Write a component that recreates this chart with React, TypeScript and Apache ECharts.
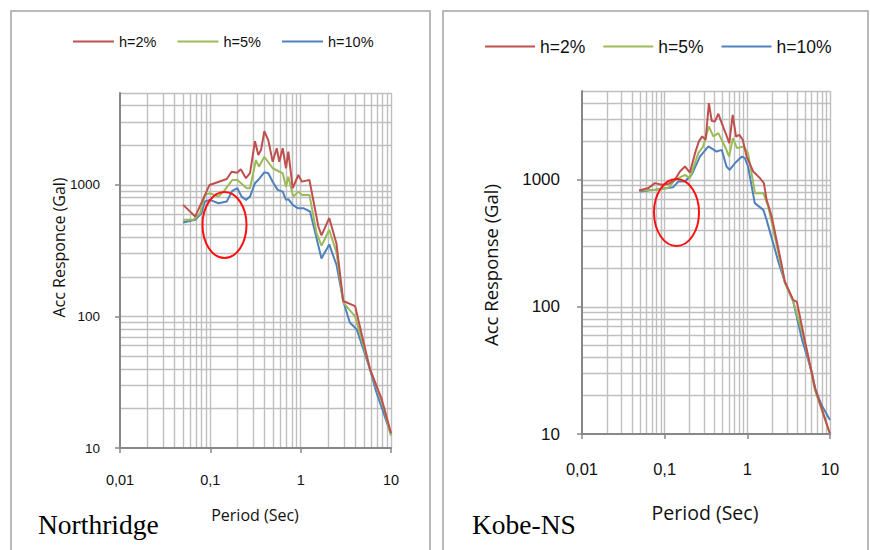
import React, { useEffect, useRef } from 'react';
import * as echarts from 'echarts';

const seriesNames = ['h=2%', 'h=5%', 'h=10%'];
const seriesColors = ['#C0504D', '#9BBB59', '#4F81BD'];
const xMin = 0.01;
const xMax = 10;
const yMin = 10;
const yMax = 5000;
const xTickValues = [0.01, 0.1, 1, 10];
const yTickValues = [10, 100, 1000];
const panelTitles = ['Northridge', 'Kobe-NS'];
const yAxisTitles = ['Acc Responce (Gal)', 'Acc Response (Gal)'];
const xAxisTitle = 'Period (Sec)';

// Northridge [period (s), acceleration (Gal)]
const northridgeH2 = [
  [0.05, 705], [0.068, 575], [0.098, 1000], [0.152, 1110], [0.172, 1260], [0.199, 1240],
  [0.217, 1315], [0.248, 1125], [0.275, 1230], [0.312, 2150], [0.34, 1690], [0.364, 1840],
  [0.396, 2560], [0.438, 2190], [0.49, 1500], [0.543, 1900], [0.58, 1500], [0.633, 1900],
  [0.688, 1340], [0.73, 1790], [0.817, 945], [0.942, 1190], [1.03, 1060], [1.25, 1090],
  [1.57, 483], [1.7, 414], [2.07, 560], [2.49, 359], [2.96, 131], [4.0, 120], [5.86, 39.6],
  [7.0, 29], [7.89, 23.5], [10, 13],
];
const northridgeH5 = [
  [0.05, 543], [0.065, 543], [0.077, 611], [0.087, 840], [0.099, 865], [0.123, 815],
  [0.145, 917], [0.175, 1090], [0.199, 1090], [0.253, 944], [0.275, 944], [0.32, 1546],
  [0.345, 1377], [0.396, 1638], [0.49, 1339], [0.633, 1227], [0.688, 970], [0.73, 1156],
  [0.828, 815], [0.942, 890], [1.03, 840], [1.25, 840], [1.5, 431], [1.7, 345], [2.07, 456],
  [2.5, 304], [2.96, 128], [4.0, 100], [5.86, 40], [8.2, 21], [10, 12.4],
];
const northridgeH10 = [
  [0.05, 519], [0.068, 543], [0.08, 611], [0.087, 748], [0.099, 770], [0.123, 726],
  [0.152, 748], [0.175, 901], [0.199, 944], [0.222, 815], [0.248, 770], [0.275, 815],
  [0.312, 1030], [0.345, 1105], [0.396, 1248], [0.438, 1227], [0.49, 1059], [0.556, 917],
  [0.633, 890], [0.688, 770], [0.73, 779], [0.817, 705], [0.928, 666], [1.07, 666],
  [1.27, 628], [1.7, 276], [2.07, 353], [2.5, 245], [2.96, 131], [3.5, 90], [4.17, 80],
  [5.86, 39.6], [6.9, 26.4], [10, 12.7],
];

// Kobe-NS [period (s), acceleration (Gal)]
const kobeH2 = [
  [0.049, 824], [0.0635, 861], [0.0763, 942], [0.0921, 914], [0.11, 926], [0.133, 1000],
  [0.153, 1162], [0.176, 1273], [0.202, 1141], [0.233, 1622], [0.259, 2005], [0.285, 2195],
  [0.313, 2066], [0.343, 4018], [0.371, 2900], [0.406, 2880], [0.446, 3311], [0.49, 2793],
  [0.537, 2400], [0.605, 1945], [0.665, 3250], [0.729, 2193], [0.8, 2260], [0.879, 2066],
  [0.982, 1525], [1.18, 1162], [1.42, 1031], [1.585, 942], [1.71, 696], [1.97, 514],
  [2.58, 221], [2.84, 158], [3.6, 113], [3.97, 110], [5.0, 53], [6.6, 22.9], [10, 10],
];
const kobeH5 = [
  [0.049, 824], [0.0763, 834], [0.11, 861], [0.133, 1000], [0.176, 1095], [0.202, 1031],
  [0.255, 1622], [0.292, 1830], [0.343, 2631], [0.387, 2195], [0.446, 2333], [0.536, 1830],
  [0.602, 1526], [0.668, 2129], [0.749, 1777], [0.899, 1830], [1.02, 1622], [1.24, 785],
  [1.56, 785], [1.79, 617], [2.58, 207], [2.84, 155], [3.6, 110], [5.0, 52], [6.6, 22],
  [10, 10],
];
const kobeH10 = [
  [0.05, 809], [0.076, 834], [0.127, 876], [0.146, 969], [0.176, 969], [0.212, 1095],
  [0.267, 1525], [0.338, 1830], [0.425, 1670], [0.49, 1722], [0.56, 1273], [0.61, 1199],
  [0.71, 1353], [0.78, 1437], [0.86, 1525], [0.935, 1482], [1.02, 1273], [1.23, 656],
  [1.56, 580], [1.71, 484], [2.4, 221], [2.84, 158], [3.6, 110], [4.6, 55], [6.0, 31],
  [6.6, 22.9], [7.9, 16.9], [10, 12.9],
];

const panelData = [
  [northridgeH2, northridgeH5, northridgeH10],
  [kobeH2, kobeH5, kobeH10],
];

function logGridValues(min: number, max: number): number[] {
  const out: number[] = [];
  for (let d = min; d < max * 0.999; d *= 10) {
    for (let m = 1; m < 10; m++) {
      const v = +(d * m).toPrecision(4);
      if (v <= max * 1.0001 && out.indexOf(v) < 0) out.push(v);
    }
  }
  if (out.indexOf(max) < 0) out.push(max);
  return out;
}

const FONT = '"Liberation Sans", Arial, sans-serif';
const TITLE_FONT = '"Open Sans", sans-serif';
const SERIF = '"Liberation Serif", "Times New Roman", serif';
const AXIS_COLOR = '#878787';
const GRID_COLOR = '#bfbfbf';

export default function App() {
  const ref = useRef<HTMLDivElement>(null);

  useEffect(() => {
    document.body.style.margin = '0';
    if (!ref.current) return;
    const chart = echarts.init(ref.current, undefined, { renderer: 'svg' });

    const xGrid = logGridValues(xMin, xMax).filter((v) => v > xMin);
    const yGrid = logGridValues(yMin, yMax).filter((v) => v > yMin);

    const panels = [
      {
        grid: { left: 120, top: 93, width: 271, height: 355 },
        xLabelSize: 14.5, xLabelMargin: 24, yLabelSize: 13.5, yLabelMargin: 20,
        legend: { left: 73, top: 34, itemWidth: 41, itemGap: 21, fontSize: 14.5 },
      },
      {
        grid: { left: 582, top: 91, width: 248, height: 343 },
        xLabelSize: 16.5, xLabelMargin: 26, yLabelSize: 17, yLabelMargin: 22,
        legend: { left: 485, top: 37.5, itemWidth: 50, itemGap: 18, fontSize: 17.5 },
      },
    ];

    const fmtX = (v: number) => String(+v.toPrecision(3)).replace('.', ',');
    const fmtY = (v: number) => String(Math.round(v));

    const series: any[] = [];
    panelData.forEach((sets, p) => {
      sets.forEach((data, i) => {
        const s: any = {
          type: 'line',
          name: seriesNames[i],
          xAxisIndex: p,
          yAxisIndex: p,
          data,
          symbol: 'none',
          showSymbol: false,
          z: 3 + (2 - i) * 0.1,
          lineStyle: { color: seriesColors[i], width: 2 },
          itemStyle: { color: seriesColors[i] },
        };
        if (i === 0) {
          s.markLine = {
            silent: true,
            z: 1,
            symbol: ['none', 'none'],
            label: { show: false },
            emphasis: { disabled: true },
            lineStyle: { type: 'solid', color: GRID_COLOR, width: 1.4 },
            data: [
              ...xGrid.map((v) => ({ xAxis: v })),
              ...yGrid.map((v) => ({ yAxis: v })),
            ],
          };
        }
        series.push(s);
      });
    });

    const option: any = {
      animation: false,
      backgroundColor: '#ffffff',
      grid: panels.map((p) => p.grid),
      legend: panels.map((p) => ({
        data: seriesNames.map((n) => ({ name: n, icon: 'rect' })),
        left: p.legend.left,
        top: p.legend.top,
        padding: 0,
        orient: 'horizontal',
        itemWidth: p.legend.itemWidth,
        itemHeight: 2,
        itemGap: p.legend.itemGap,
        selectedMode: false,
        textStyle: { fontFamily: FONT, fontSize: p.legend.fontSize, color: '#111' },
      })),
      xAxis: panels.map((p, i) => ({
        type: 'log',
        logBase: 10,
        gridIndex: i,
        min: xMin,
        max: xMax,
        z: 4,
        axisLine: { show: true, onZero: false, lineStyle: { color: AXIS_COLOR, width: 2 } },
        axisTick: { show: true, length: 5, customValues: xTickValues, lineStyle: { color: AXIS_COLOR, width: 1.5 } },
        axisLabel: {
          customValues: xTickValues,
          formatter: fmtX,
          fontFamily: FONT,
          fontSize: p.xLabelSize,
          margin: p.xLabelMargin,
          color: '#111',
        },
        splitLine: { show: false },
      })),
      yAxis: panels.map((p, i) => ({
        type: 'log',
        logBase: 10,
        gridIndex: i,
        min: yMin,
        max: yMax,
        z: 4,
        axisLine: { show: true, onZero: false, lineStyle: { color: AXIS_COLOR, width: 2 } },
        axisTick: { show: true, length: 5, customValues: yTickValues, lineStyle: { color: AXIS_COLOR, width: 1.5 } },
        axisLabel: {
          customValues: yTickValues,
          formatter: fmtY,
          fontFamily: FONT,
          fontSize: p.yLabelSize,
          margin: p.yLabelMargin,
          color: '#111',
        },
        splitLine: { show: false },
      })),
      series,
      graphic: [
        { type: 'rect', silent: true, z: 0, shape: { x: 11, y: 11, width: 419, height: 580 }, style: { fill: 'none', stroke: '#a3a3a3', lineWidth: 1.5 } },
        { type: 'rect', silent: true, z: 0, shape: { x: 443, y: 11, width: 425, height: 580 }, style: { fill: 'none', stroke: '#a3a3a3', lineWidth: 1.5 } },
        { type: 'ellipse', silent: true, z: 10, shape: { cx: 224.5, cy: 225, rx: 22, ry: 33 }, style: { fill: 'none', stroke: '#ff1010', lineWidth: 2 } },
        { type: 'ellipse', silent: true, z: 10, shape: { cx: 676.5, cy: 212.5, rx: 22.5, ry: 33.5 }, style: { fill: 'none', stroke: '#ff1010', lineWidth: 2 } },
        { type: 'text', silent: true, x: 59, y: 247.5, rotation: Math.PI / 2, style: { text: yAxisTitles[0], fontFamily: TITLE_FONT, fontSize: 16, fill: '#111', align: 'center', verticalAlign: 'middle' } },
        { type: 'text', silent: true, x: 490, y: 265, rotation: Math.PI / 2, style: { text: yAxisTitles[1], fontFamily: TITLE_FONT, fontSize: 18.5, fill: '#111', align: 'center', verticalAlign: 'middle' } },
        { type: 'text', silent: true, x: 255, y: 515, style: { text: xAxisTitle, fontFamily: TITLE_FONT, fontSize: 16, fill: '#111', align: 'center', verticalAlign: 'middle' } },
        { type: 'text', silent: true, x: 705, y: 512, style: { text: xAxisTitle, fontFamily: TITLE_FONT, fontSize: 19.5, fill: '#111', align: 'center', verticalAlign: 'middle' } },
        { type: 'text', silent: true, x: 38, y: 524, style: { text: panelTitles[0], fontFamily: SERIF, fontSize: 27.5, fill: '#000', align: 'left', verticalAlign: 'middle' } },
        { type: 'text', silent: true, x: 472, y: 524, style: { text: panelTitles[1], fontFamily: SERIF, fontSize: 27.5, fill: '#000', align: 'left', verticalAlign: 'middle' } },
      ],
    };

    chart.setOption(option);
    return () => {
      chart.dispose();
    };
  }, []);

  return <div ref={ref} style={{ width: 870, height: 550 }} />;
}
